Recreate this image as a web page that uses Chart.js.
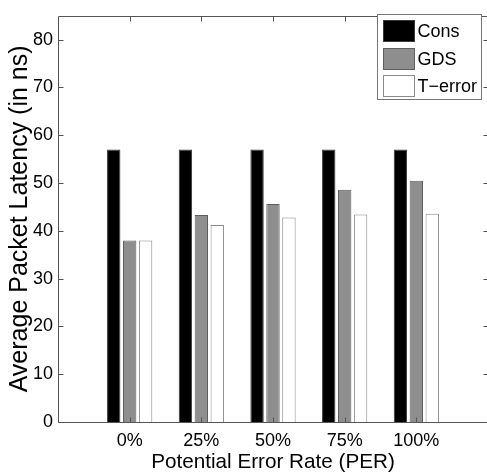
<!DOCTYPE html>
<html><head><meta charset="utf-8">
<script src="https://cdn.jsdelivr.net/npm/chart.js@4.4.1/dist/chart.umd.min.js"></script>
<style>
html,body{margin:0;padding:0;background:#fff;overflow:hidden;width:487px;height:476px}
#wrap{position:absolute;left:0;top:0;width:496px;height:476px}
</style>
</head><body><div id="wrap"><canvas id="c" width="496" height="476"></canvas></div>
<script>
// ---- data ----
const categories = ['0%', '25%', '50%', '75%', '100%'];
const seriesNames = ['Cons', 'GDS', 'T\u2212error'];
const consValues = [57, 57, 57, 57, 57];
const gdsValues = [38, 43.3, 45.6, 48.6, 50.5];
const terrorValues = [38, 41.2, 42.8, 43.4, 43.6];
const yTicks = [0, 10, 20, 30, 40, 50, 60, 70, 80];
const xTitle = 'Potential Error Rate (PER)';
const yTitle = 'Average Packet Latency (in ns)';

// ---- fonts ----
function hasFont(name) {
  const c = document.createElement('canvas').getContext('2d');
  const t = 'Potential Error Rate (PER) 0123456789';
  c.font = '40px monospace'; const a = c.measureText(t).width;
  c.font = '40px "' + name + '", monospace'; const b = c.measureText(t).width;
  c.font = '40px serif'; const a2 = c.measureText(t).width;
  c.font = '40px "' + name + '", serif'; const b2 = c.measureText(t).width;
  return a !== b || a2 !== b2;
}
const regular = '"Liberation Sans", Arial, Helvetica, sans-serif';
const haveNarrow = hasFont('Liberation Sans Narrow');
const narrow = haveNarrow ? '"Liberation Sans Narrow", "Liberation Sans", sans-serif' : regular;
const xTickSize = haveNarrow ? 21 : 18;
const xTitleSize = haveNarrow ? 25 : 20.7;
const legendSize = haveNarrow ? 22 : 18;

// ---- build table ----
const labels = ['', ...categories, ''];
const padded = a => [null, ...a, null];

const axesPlugin = {
  id: 'matlabAxes',
  afterDatasetsDraw(chart) {
    const { ctx, chartArea: a, scales: { x, y } } = chart;
    ctx.save();
    ctx.strokeStyle = '#555';
    ctx.lineWidth = 1;
    const L = Math.round(a.left) + 0.5, R = Math.round(a.right) + 0.5;
    const T = Math.round(a.top) + 0.5, B = Math.round(a.bottom) + 0.5;
    ctx.beginPath();
    ctx.rect(L, T, R - L, B - T);
    ctx.stroke();
    ctx.beginPath();
    yTicks.forEach(v => {
      const py = Math.round(y.getPixelForValue(v)) + 0.5;
      ctx.moveTo(L, py); ctx.lineTo(L + 5, py);
      ctx.moveTo(R, py); ctx.lineTo(R - 5, py);
    });
    categories.forEach((c, i) => {
      const px = Math.round(x.getPixelForValue(i + 1)) + 0.5;
      ctx.moveTo(px, B); ctx.lineTo(px, B - 5);
      ctx.moveTo(px, T); ctx.lineTo(px, T + 5);
    });
    ctx.stroke();
    ctx.restore();
  }
};

const legendPlugin = {
  id: 'boxLegend',
  afterDraw(chart) {
    const ctx = chart.ctx;
    ctx.save();
    const bx = 377.5, by = 14.5, bw = 104, bh = 85;
    ctx.fillStyle = '#fff';
    ctx.fillRect(bx, by, bw, bh);
    ctx.strokeStyle = '#777';
    ctx.lineWidth = 1;
    ctx.strokeRect(bx, by, bw, bh);
    chart.data.datasets.forEach((ds, i) => {
      const sy = 20.5 + Math.round(i * 27.5);
      ctx.fillStyle = ds.backgroundColor;
      ctx.fillRect(383.5, sy, 31, 21);
      ctx.strokeStyle = ds.borderColor;
      ctx.strokeRect(383.5, sy, 31, 21);
      ctx.fillStyle = '#000';
      ctx.font = legendSize + 'px ' + narrow;
      ctx.textBaseline = 'middle';
      ctx.textAlign = 'left';
      ctx.fillText(ds.label, 417.5, sy + 12);
    });
    ctx.restore();
  }
};

const barOpts = { categoryPercentage: 0.667, barPercentage: 0.84, borderWidth: 1 };

new Chart(document.getElementById('c'), {
  type: 'bar',
  data: {
    labels: labels,
    datasets: [
      Object.assign({ label: seriesNames[0], data: padded(consValues), backgroundColor: '#000000', borderColor: '#3a3a3a' }, barOpts),
      Object.assign({ label: seriesNames[1], data: padded(gdsValues), backgroundColor: '#8e8e8e', borderColor: '#5e5e5e' }, barOpts),
      Object.assign({ label: seriesNames[2], data: padded(terrorValues), backgroundColor: '#ffffff', borderColor: '#8a8a8a' }, barOpts)
    ]
  },
  options: {
    responsive: false,
    animation: false,
    devicePixelRatio: 1,
    layout: { padding: { left: 0, top: 7, right: 6, bottom: 0 } },
    plugins: { legend: { display: false }, tooltip: { enabled: false } },
    scales: {
      x: {
        type: 'category',
        offset: false,
        grid: { display: false, drawTicks: false, offset: false },
        border: { display: false },
        ticks: { font: { family: narrow, size: xTickSize }, color: '#000', padding: 8, maxRotation: 0, autoSkip: false },
        title: { display: true, text: xTitle, color: '#000', font: { family: narrow, size: xTitleSize, lineHeight: 1 }, padding: { top: 0, bottom: 3 } },
        afterFit(s) { s.height = 54; }
      },
      y: {
        min: 0, max: 85,
        grid: { display: false, drawTicks: false },
        border: { display: false },
        afterBuildTicks(s) { s.ticks = yTicks.map(v => ({ value: v })); },
        ticks: { font: { family: regular, size: 18 }, color: '#000', padding: 5 },
        title: { display: true, text: yTitle, color: '#000', font: { family: regular, size: 25, lineHeight: 1 }, padding: { top: 7.5, bottom: 0 } },
        afterFit(s) { s.width = 58; }
      }
    }
  },
  plugins: [axesPlugin, legendPlugin]
});
</script>
</body></html>
